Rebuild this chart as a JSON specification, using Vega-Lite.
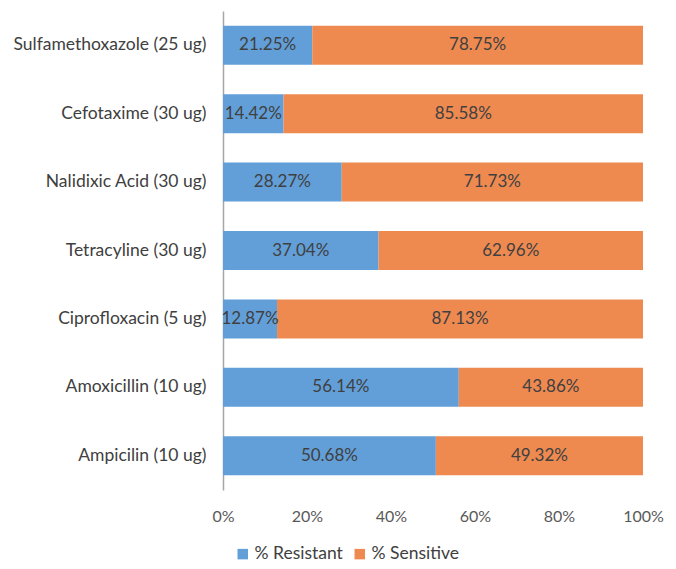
{
  "$schema": "https://vega.github.io/schema/vega-lite/v6.json",
  "width": 420,
  "height": 479,
  "autosize": "none",
  "padding": {"left": 223, "top": 11, "right": 33, "bottom": 79},
  "background": "white",
  "config": {
    "view": {"stroke": null},
    "font": "Lato"
  },
  "data": {
    "values": [
      {"drug": "Sulfamethoxazole (25 ug)", "type": "% Resistant", "value": 0.2125},
      {"drug": "Sulfamethoxazole (25 ug)", "type": "% Sensitive", "value": 0.7875},
      {"drug": "Cefotaxime (30 ug)", "type": "% Resistant", "value": 0.1442},
      {"drug": "Cefotaxime (30 ug)", "type": "% Sensitive", "value": 0.8558},
      {"drug": "Nalidixic Acid (30 ug)", "type": "% Resistant", "value": 0.2827},
      {"drug": "Nalidixic Acid (30 ug)", "type": "% Sensitive", "value": 0.7173},
      {"drug": "Tetracyline (30 ug)", "type": "% Resistant", "value": 0.3704},
      {"drug": "Tetracyline (30 ug)", "type": "% Sensitive", "value": 0.6296},
      {"drug": "Ciprofloxacin (5 ug)", "type": "% Resistant", "value": 0.1287},
      {"drug": "Ciprofloxacin (5 ug)", "type": "% Sensitive", "value": 0.8713},
      {"drug": "Amoxicillin (10 ug)", "type": "% Resistant", "value": 0.5614},
      {"drug": "Amoxicillin (10 ug)", "type": "% Sensitive", "value": 0.4386},
      {"drug": "Ampicilin (10 ug)", "type": "% Resistant", "value": 0.5068},
      {"drug": "Ampicilin (10 ug)", "type": "% Sensitive", "value": 0.4932}
    ]
  },
  "transform": [
    {"stack": "value", "groupby": ["drug"], "sort": [{"field": "type", "order": "ascending"}], "as": ["v0", "v1"]},
    {"calculate": "(datum.v0 + datum.v1) / 2", "as": "mid"}
  ],
  "encoding": {
    "y": {
      "field": "drug",
      "type": "nominal",
      "sort": null,
      "title": null,
      "scale": {"paddingInner": 0.43, "paddingOuter": 0.215},
      "axis": {
        "ticks": false,
        "domainColor": "#a6a6a6",
        "domainWidth": 1.5,
        "labelColor": "#404040",
        "labelFontSize": 17.5,
        "labelPadding": 17,
        "labelLimit": 300
      }
    }
  },
  "layer": [
    {
      "mark": {"type": "bar"},
      "encoding": {
        "x": {
          "field": "v0",
          "type": "quantitative",
          "scale": {"domain": [0, 1], "nice": false},
          "title": null,
          "axis": {
            "format": ".0%",
            "values": [0, 0.2, 0.4, 0.6, 0.8, 1],
            "grid": false,
            "domain": false,
            "ticks": false,
            "labelColor": "#595959",
            "labelFontSize": 16,
            "labelPadding": 18,
            "labelFlush": false
          }
        },
        "x2": {"field": "v1"},
        "color": {
          "field": "type",
          "type": "nominal",
          "scale": {"domain": ["% Resistant", "% Sensitive"], "range": ["#629FD8", "#EE8A50"]},
          "legend": {
            "title": null,
            "orient": "none",
            "direction": "horizontal",
            "legendX": 11,
            "legendY": 534,
            "symbolType": "square",
            "symbolSize": 110,
            "symbolStrokeWidth": 0,
            "labelFontSize": 17.5,
            "labelColor": "#404040",
            "columnPadding": 8,
            "labelOffset": 3
          }
        }
      }
    },
    {
      "mark": {"type": "text", "fontSize": 17, "color": "#404040"},
      "encoding": {
        "x": {"field": "mid", "type": "quantitative"},
        "text": {"field": "value", "type": "quantitative", "format": ".2%"}
      }
    }
  ]
}
